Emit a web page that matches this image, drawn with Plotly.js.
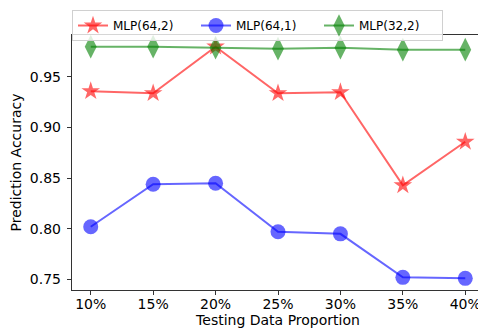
<!DOCTYPE html>
<html>
<head>
<meta charset="utf-8">
<script src="https://cdn.plot.ly/plotly-3.0.1.min.js"></script>
<style>html,body{margin:0;padding:0;overflow:hidden;background:#fff;}</style>
</head>
<body>
<div id="chart"></div>
<script>
const categories = ["10%", "15%", "20%", "25%", "30%", "35%", "40%"];
const mlp64_2 = [0.936, 0.934, 0.980, 0.934, 0.935, 0.843, 0.886];
const mlp64_1 = [0.802, 0.844, 0.845, 0.797, 0.795, 0.752, 0.751];
const mlp32_2 = [0.980, 0.980, 0.979, 0.978, 0.979, 0.977, 0.977];
const yTicks = [0.75, 0.80, 0.85, 0.90, 0.95];

const idx = categories.map((c, i) => i);
const font = "DejaVu Sans, sans-serif";

const traces = [
  {x: idx, y: mlp64_2, name: "MLP(64,2)", mode: "lines+markers",
   line: {color: "rgba(255,0,0,0.6)", width: 2},
   marker: {symbol: "star", size: 14, color: "rgba(255,0,0,0.6)"}},
  {x: idx, y: mlp64_1, name: "MLP(64,1)", mode: "lines+markers",
   line: {color: "rgba(0,0,255,0.6)", width: 2},
   marker: {symbol: "circle", size: 15, color: "rgba(0,0,255,0.6)"}},
  {x: idx, y: mlp32_2, name: "MLP(32,2)", mode: "lines+markers",
   line: {color: "rgba(0,128,0,0.6)", width: 2},
   marker: {symbol: "diamond-tall", size: 17, color: "rgba(0,128,0,0.6)"}}
];

const layout = {
  width: 490, height: 329,
  margin: {l: 72, r: 6, t: 35, b: 39},
  paper_bgcolor: "#fff", plot_bgcolor: "#fff",
  font: {family: font, size: 14, color: "#000"},
  showlegend: true,
  legend: {orientation: "h", x: 0, xanchor: "left", y: 1.098, yanchor: "top",
           bgcolor: "rgba(255,255,255,0.8)",
           bordercolor: "#d0d0d0", borderwidth: 1, font: {size: 12, family: font},
           entrywidth: 78, entrywidthmode: "pixels", itemwidth: 30, tracegroupgap: 0},
  xaxis: {
    range: [-0.3, 6.3], tickmode: "array", tickvals: idx, ticktext: categories,
    showgrid: false, zeroline: false, showline: true, linecolor: "#333", linewidth: 1.2,
    mirror: true, ticks: "outside", ticklen: 4, tickcolor: "#333",
    ticklabelstandoff: -3,
    tickfont: {size: 14, family: font},
    title: {text: "Testing Data Proportion", font: {size: 14, family: font}, standoff: 2}
  },
  yaxis: {
    range: [0.7395, 0.9915], tickmode: "array", tickvals: yTicks,
    ticktext: yTicks.map(v => v.toFixed(2)),
    showgrid: false, zeroline: false, showline: true, linecolor: "#333", linewidth: 1.2,
    mirror: true, ticks: "outside", ticklen: 4, tickcolor: "#333",
    ticklabelstandoff: 3,
    tickfont: {size: 14, family: font},
    title: {text: "Prediction Accuracy", font: {size: 14, family: font}, standoff: 5}
  }
};

Plotly.newPlot("chart", traces, layout, {displayModeBar: false, staticPlot: true});
</script>
</body>
</html>
